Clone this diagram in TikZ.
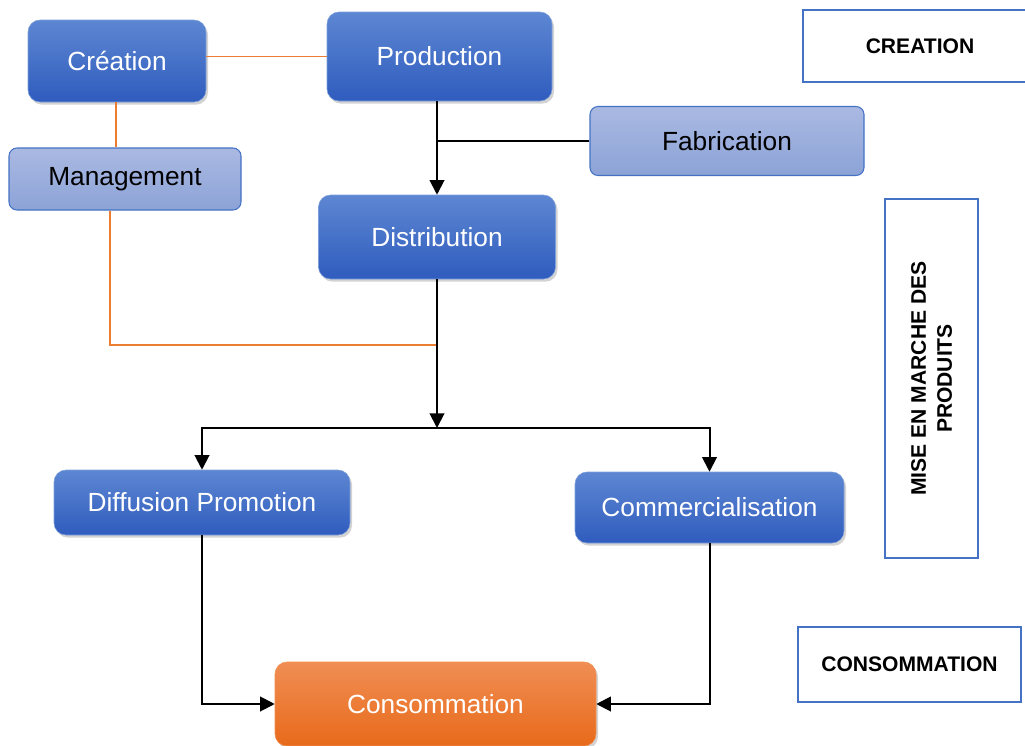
\documentclass[tikz,border=0pt]{standalone}
\usepackage{fontspec}
\setmainfont{Liberation Sans}
\usepackage{xcolor}
\usepackage{tikz}
\usetikzlibrary{arrows.meta, positioning, calc, shadows}

\definecolor{bleuhaut}{RGB}{93,135,210}
\definecolor{bleubas}{RGB}{47,92,190}
\definecolor{clairhaut}{RGB}{170,185,226}
\definecolor{clairbas}{RGB}{140,163,215}
\definecolor{orangehaut}{RGB}{240,142,84}
\definecolor{orangebas}{RGB}{232,106,26}
\definecolor{bordbleu}{RGB}{68,114,196}
\definecolor{lienorange}{RGB}{237,125,49}

\tikzset{
    etape/.style={rounded corners=9pt, draw=bleuhaut!80!white, top color=bleuhaut, bottom color=bleubas,
        text=white, font=\fontsize{19.7}{24}\selectfont,
        drop shadow={shadow xshift=1.5pt, shadow yshift=-2pt, opacity=0.35}},
    soustache/.style={rounded corners=6pt, draw=bordbleu, line width=0.8pt, top color=clairhaut, bottom color=clairbas,
        text=black, font=\fontsize{19.7}{24}\selectfont},
    finale/.style={etape, draw=orangehaut, top color=orangehaut, bottom color=orangebas},
    phase/.style={draw=bordbleu, line width=1.5pt, fill=white, align=center,
        font=\bfseries\fontsize{15.8}{19.5}\selectfont},
    lien/.style={draw=lienorange, line width=1.4pt},
    fleche/.style={draw=black, line width=1.5pt, -{Triangle[length=11pt, width=11pt]}},
    trait/.style={draw=black, line width=1.5pt}
}

\begin{document}
\begin{tikzpicture}[x=0.75pt, y=-0.75pt]
    \useasboundingbox (0,0) rectangle (1025,746);

    % etapes principales
    \node[etape, minimum width=133.5pt, minimum height=61.5pt] (creation) at (117,61) {Création};
    \node[etape, minimum width=168.75pt, minimum height=66.75pt] (production) at (439.5,56.5) {Production};
    \node[soustache, minimum width=174pt, minimum height=46.5pt] (management) at (125,179) {Management};
    \node[soustache, minimum width=205.5pt, minimum height=51.75pt] (fabrication) at (727,141) {Fabrication};
    \node[etape, minimum width=177.75pt, minimum height=63pt] (distribution) at (437,237) {Distribution};
    \node[etape, minimum width=222pt, minimum height=48.75pt] (diffusion) at (202,502.5) {Diffusion Promotion};
    \node[etape, minimum width=201.75pt, minimum height=53.25pt] (commercialisation) at (709.5,507.5) {Commercialisation};
    \node[finale, minimum width=240.75pt, minimum height=63pt] (consommation) at (435.5,704) {Consommation};

    % phases
    \node[phase, minimum width=169.5pt, minimum height=54pt] (phasecreation) at (916,46) {\hspace*{6pt}CREATION};
    \node[phase, rotate=90, minimum width=269.25pt, minimum height=69.75pt] (phasemarche) at (931.5,378.5) {MISE EN MARCHE DES\\PRODUITS};
    \node[phase, minimum width=167.25pt, minimum height=56.25pt] (phaseconso) at (909.5,664.5) {CONSOMMATION};

    \coordinate (jonction) at (437,345);
    \coordinate (partage) at (437,428);

    % liens orange
    \draw[lien] (production.west) -- (production.west -| creation.east);
    \draw[lien] ([xshift=-1pt]creation.south) -- ([xshift=-1pt]creation.south |- management.north);
    \draw[lien] ([xshift=-11pt]management.south) |- (jonction);

    % fleches
    \draw[fleche] (production.south -| distribution.north) -- (distribution.north);
    \draw[trait] (fabrication.west) -- (fabrication.west -| distribution.north);
    \draw[fleche] (distribution.south) -- (partage);
    \draw[fleche] (partage) -| (diffusion.north);
    \draw[fleche] (partage) -| (commercialisation.north);
    \draw[fleche] (diffusion.south) |- (consommation.west);
    \draw[fleche] (commercialisation.south) |- (consommation.east);
\end{tikzpicture}
\end{document}
